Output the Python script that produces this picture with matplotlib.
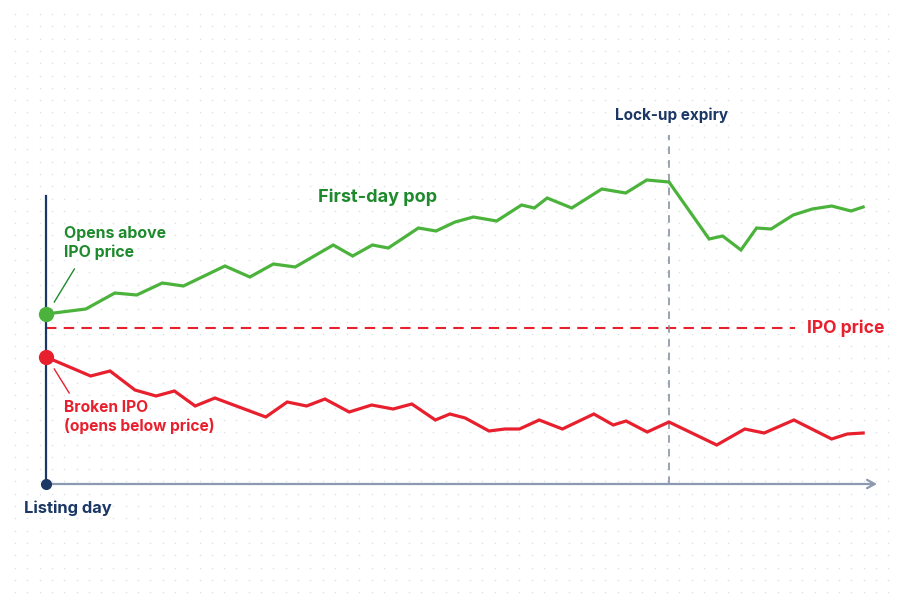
import matplotlib.pyplot as plt
import numpy as np

# price paths (days since listing, share price)
green_days = [0, 11.5, 19.9, 26.2, 33.6, 39.7, 51.7, 58.9, 65.7, 72.0, 83.0, 88.6,
              94.3, 98.9, 107.6, 112.7, 118.2, 123.5, 130.2, 137.4, 141.1, 144.8,
              151.9, 160.6, 167.5, 173.6, 180.0, 191.6, 195.5, 200.8, 205.3, 209.5,
              215.9, 221.4, 227.0, 232.6, 236.1]
green_price = [21.4, 21.9, 23.5, 23.3, 24.5, 24.2, 26.2, 25.1, 26.4, 26.1, 28.3, 27.2,
               28.3, 28.0, 30.0, 29.7, 30.6, 31.1, 30.7, 32.3, 32.0, 33.0,
               32.0, 33.9, 33.5, 34.8, 34.6, 28.9, 29.2, 27.8, 30.0, 29.9,
               31.3, 31.9, 32.2, 31.7, 32.1]

red_days = [0, 12.9, 18.5, 25.7, 31.8, 37.1, 43.1, 48.8, 63.5, 69.7, 75.3, 80.6,
            87.6, 94.1, 100.3, 105.7, 112.5, 116.7, 121.1, 128.0, 132.6, 136.8,
            142.5, 149.2, 158.3, 163.9, 167.6, 173.7, 180.0, 193.8, 201.9, 207.5,
            216.1, 227.0, 231.5, 236.1]
red_price = [17.1, 15.2, 15.7, 13.8, 13.2, 13.7, 12.2, 13.0, 11.1, 12.6, 12.2, 12.9,
             11.6, 12.3, 11.9, 12.4, 10.8, 11.4, 11.0, 9.7, 9.9, 9.9,
             10.8, 9.9, 11.4, 10.3, 10.7, 9.6, 10.6, 8.3, 9.9, 9.5,
             10.8, 8.9, 9.4, 9.5]

IPO_PRICE = 20.0
LOCKUP_DAY = 180
AXIS_FLOOR = 4.4
AXIS_TOP = 33.2
AXIS_END = 240.1
IPO_LINE_END = 216.4

GREEN = "#4bb33b"
GREEN_TEXT = "#1e8a2c"
RED = "#e8202e"
NAVY = "#1b3766"
AXIS_GRAY = "#8b9ab0"
LOCK_GRAY = "#7f8c9c"

plt.rcParams["font.family"] = ["Inter", "DejaVu Sans"]

fig = plt.figure(figsize=(9, 6), dpi=100)
fig.patch.set_facecolor("white")

# dotted paper background
bg = fig.add_axes([0, 0, 1, 1])
bg.set_xlim(0, 900)
bg.set_ylim(600, 0)
bg.axis("off")
gx, gy = np.meshgrid(np.arange(15, 900, 12.3), np.arange(14, 600, 12.3))
bg.scatter(gx.ravel(), gy.ravel(), s=1.3, color="#dbe2ea", linewidths=0)

ax = fig.add_axes([0, 0, 1, 1])
ax.patch.set_alpha(0)
ax.set_xlim(-13.29, 246.75)
ax.set_ylim(-7.2, 52.8)
ax.axis("off")

# axes
ax.plot([0, 0], [AXIS_FLOOR, AXIS_TOP], color=NAVY, lw=1.6, zorder=3)
ax.annotate("", xy=(AXIS_END, AXIS_FLOOR), xytext=(0, AXIS_FLOOR),
            arrowprops=dict(arrowstyle="->,head_length=0.55,head_width=0.3",
                            color=AXIS_GRAY, lw=1.6, shrinkA=0, shrinkB=0))
ax.plot(0, AXIS_FLOOR, "o", color=NAVY, ms=7, zorder=5)

# IPO price reference
ax.plot([0, IPO_LINE_END], [IPO_PRICE, IPO_PRICE], color=RED, lw=1.5,
        dashes=(5, 3.5), zorder=2)
ax.text(219.9, IPO_PRICE, "IPO price", color=RED, fontsize=12.6,
        fontweight="bold", va="center", ha="left")

# lock-up expiry
ax.plot([LOCKUP_DAY, LOCKUP_DAY], [AXIS_FLOOR, 39.3], color=LOCK_GRAY, lw=1.1,
        dashes=(5, 4), zorder=2)
ax.text(LOCKUP_DAY + 0.7, 41.3, "Lock-up expiry", color=NAVY, fontsize=11,
        fontweight="bold", va="center", ha="center")

# price paths
ax.plot(green_days, green_price, color=GREEN, lw=2.3, solid_joinstyle="miter", zorder=4)
ax.plot(red_days, red_price, color=RED, lw=2.3, solid_joinstyle="miter", zorder=4)
ax.plot(green_days[0], green_price[0], "o", color=GREEN, ms=10, zorder=5)
ax.plot(red_days[0], red_price[0], "o", color=RED, ms=10, zorder=5)

# annotations
ax.text(78.6, 33.1, "First-day pop", color=GREEN_TEXT, fontsize=13,
        fontweight="bold", va="center", ha="left")
ax.text(5.2, 28.5, "Opens above\nIPO price", color=GREEN_TEXT, fontsize=11.4,
        fontweight="bold", va="center", ha="left", linespacing=1.3)
ax.plot([2.4, 8.2], [22.6, 25.9], color=GREEN_TEXT, lw=1)
ax.text(5.2, 11.1, "Broken IPO\n(opens below price)", color=RED, fontsize=11.2,
        fontweight="bold", va="center", ha="left", linespacing=1.25)
ax.plot([2.4, 6.7], [15.9, 13.5], color=RED, lw=1)
ax.text(-6.4, 2.0, "Listing day", color=NAVY, fontsize=11.9,
        fontweight="bold", va="center", ha="left")

fig.savefig("out.png", dpi=100)
